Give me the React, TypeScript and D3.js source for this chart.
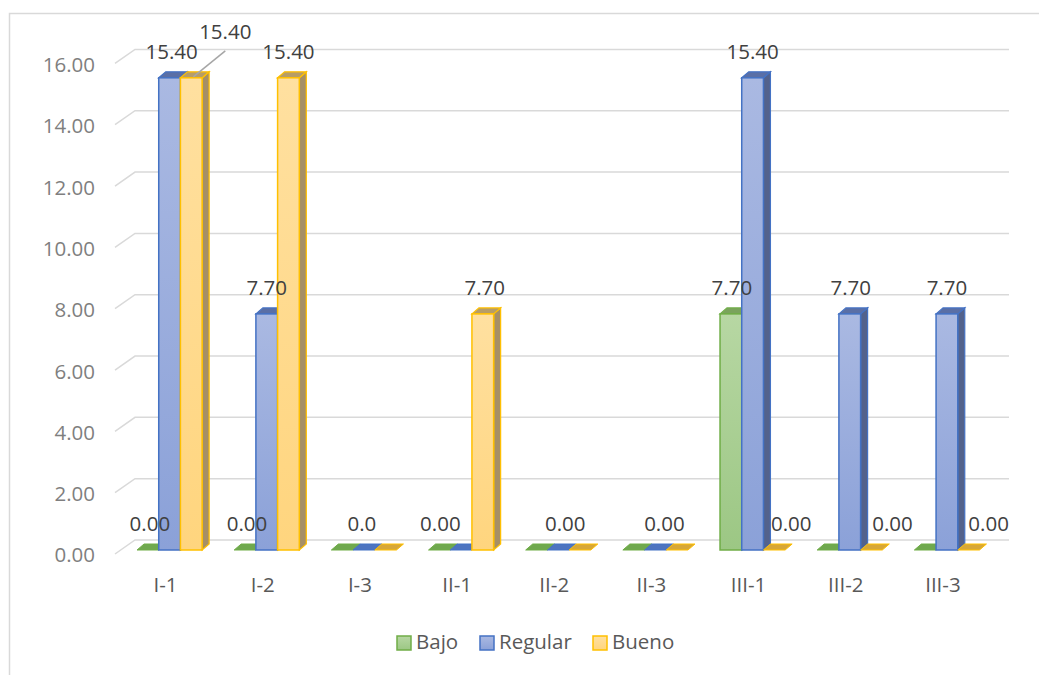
import React from "react";
import * as d3 from "d3";

const categories = ["I-1", "I-2", "I-3", "II-1", "II-2", "II-3", "III-1", "III-2", "III-3"];
const seriesNames = ["Bajo", "Regular", "Bueno"];
const bajo = [0, 0, 0, 0, 0, 0, 7.7, 0, 0];
const regular = [15.4, 7.7, 0, 0, 0, 0, 15.4, 7.7, 7.7];
const bueno = [15.4, 15.4, 0, 7.7, 0, 0, 0, 0, 0];
const yTicks = [0, 2, 4, 6, 8, 10, 12, 14, 16];

// which data labels are shown: [category index, series index, text]
const labelCat = [0, 0, 0, 1, 1, 1, 2, 3, 3, 4, 5, 6, 6, 6, 7, 7, 8, 8];
const labelSer = [0, 1, 2, 0, 1, 2, 1, 0, 2, 1, 1, 0, 1, 2, 1, 2, 1, 2];
const labelText = ["0.00", "15.40", "15.40", "0.00", "7.70", "15.40", "0.0", "0.00", "7.70", "0.00", "0.00", "7.70", "15.40", "0.00", "7.70", "0.00", "7.70", "0.00"];
// label placement tweaks (style)
const labelDx = [2, 2, 34, 2, 0, 0, -2, 1, 2, 7, 9, 1, 0, 17, 1, 21, 0, 20];
const labelDy = [0, 0, -20, 0, 0, 0, 0, 0, 0, 0, 0, 0, 0, 0, 0, 0, 0, 0];

const styles = [
  { light: "#b7d7a3", dark: "#9cc784", stroke: "#70ad47", top: "#7aa35c", side: "#5e8046", flat: "#6fa84e" },
  { light: "#aab9e2", dark: "#8ba1d8", stroke: "#4472c4", top: "#5a6fa6", side: "#53628c", flat: "#4d74c0" },
  { light: "#ffe0a0", dark: "#ffd57e", stroke: "#ffc000", top: "#b79d66", side: "#a68f66", flat: "#d7a737" },
];

const FONT = "'Open Sans', 'DejaVu Sans', sans-serif";
const FS = 20.5;

export default function App() {
  const W = 1039, H = 675;
  const values = [bajo, regular, bueno];
  const x0 = d3.scaleBand<string>().domain(categories).range([121, 995.5]).paddingInner(0.33).paddingOuter(0.165);
  const x1 = d3.scaleBand<string>().domain(seriesNames).range([0, x0.bandwidth()]);
  const yWall = d3.scaleLinear().domain([0, 16]).range([540, 49.4]);
  const yFront = d3.scaleLinear().domain([0, 16]).range([550, 59.4]);
  const dX = 7, dY = -6;
  const gx0 = 115, gx1 = 135, gxEnd = 1009, gdy = 14;

  const bars: any[] = [];
  categories.forEach((c, ci) => {
    seriesNames.forEach((s, si) => {
      bars.push({ c, ci, s, si, v: values[si][ci] });
    });
  });

  return (
    <svg width={W} height={H} style={{ position: "absolute", left: 0, top: 0, background: "#fff" }}>
      <defs>
        {styles.map((st, i) => (
          <linearGradient key={i} id={`g${i}`} x1="0" y1="0" x2="0" y2="1">
            <stop offset="0" stopColor={st.light} />
            <stop offset="1" stopColor={st.dark} />
          </linearGradient>
        ))}
      </defs>
      {/* outer border */}
      <path d={`M9.5,${H} L9.5,13.5 L${W},13.5`} fill="none" stroke="#d9d9d9" strokeWidth={1.5} />
      {/* gridlines */}
      {yTicks.map((t) => (
        <g key={t}>
          <path
            d={`M${gx0},${yWall(t) + gdy} L${gx1},${yWall(t)} L${gxEnd},${yWall(t)}`}
            fill="none"
            stroke="#d9d9d9"
            strokeWidth={1.5}
          />
          <text x={95} y={yWall(t) + 17} textAnchor="end" dominantBaseline="middle" fontFamily={FONT} fontSize={FS} fill="#7f7f7f">
            {t.toFixed(2)}
          </text>
        </g>
      ))}
      {/* bars */}
      {bars.map((b, i) => {
        const st = styles[b.si];
        const xl = (x0(b.c) as number) + (x1(b.s) as number);
        const w = x1.bandwidth();
        const yb = yFront(0);
        const yt = yFront(b.v);
        if (b.v === 0) {
          return (
            <polygon
              key={i}
              points={`${xl},${yb} ${xl + dX},${yb + dY} ${xl + w + dX},${yb + dY} ${xl + w},${yb}`}
              fill={st.flat}
              stroke={st.stroke}
              strokeWidth={1}
            />
          );
        }
        return (
          <g key={i}>
            <polygon
              points={`${xl + w},${yt} ${xl + w + dX},${yt + dY} ${xl + w + dX},${yb + dY} ${xl + w},${yb}`}
              fill={st.side}
              stroke={st.stroke}
              strokeWidth={1.2}
            />
            <polygon
              points={`${xl},${yt} ${xl + dX},${yt + dY} ${xl + w + dX},${yt + dY} ${xl + w},${yt}`}
              fill={st.top}
              stroke={st.stroke}
              strokeWidth={1.2}
            />
            <rect x={xl} y={yt} width={w} height={yb - yt} fill={`url(#g${b.si})`} stroke={st.stroke} strokeWidth={1.5} />
          </g>
        );
      })}
      {/* category labels */}
      {categories.map((c) => (
        <text key={c} x={(x0(c) as number) + x0.bandwidth() / 2 - 4} y={587} textAnchor="middle" dominantBaseline="middle" fontFamily={FONT} fontSize={FS} fill="#595959">
          {c}
        </text>
      ))}
      {/* data labels */}
      {labelCat.map((ci, i) => {
        const si = labelSer[i];
        const c = categories[ci];
        const s = seriesNames[si];
        const v = values[si][ci];
        const cx = (x0(c) as number) + (x1(s) as number) + x1.bandwidth() / 2;
        const cy = yFront(v) - 24;
        const lx = cx + labelDx[i];
        const ly = cy + labelDy[i];
        return (
          <g key={i}>
            {labelDy[i] !== 0 && (
              <line x1={lx} y1={ly + 17} x2={cx + 2} y2={yFront(v) - 1} stroke="#a6a6a6" strokeWidth={1.5} />
            )}
            <text x={lx} y={ly} textAnchor="middle" dominantBaseline="middle" fontFamily={FONT} fontSize={FS} fill="#404040">
              {labelText[i]}
            </text>
          </g>
        );
      })}
      {/* legend */}
      {seriesNames.map((s, i) => {
        const lx = [397, 480, 593][i];
        return (
          <g key={s}>
            <rect x={lx} y={636} width={14} height={14} fill={`url(#g${i})`} stroke={styles[i].stroke} strokeWidth={1.5} />
            <text x={lx + 19} y={644} dominantBaseline="middle" fontFamily={FONT} fontSize={FS} fill="#595959">
              {s}
            </text>
          </g>
        );
      })}
    </svg>
  );
}
